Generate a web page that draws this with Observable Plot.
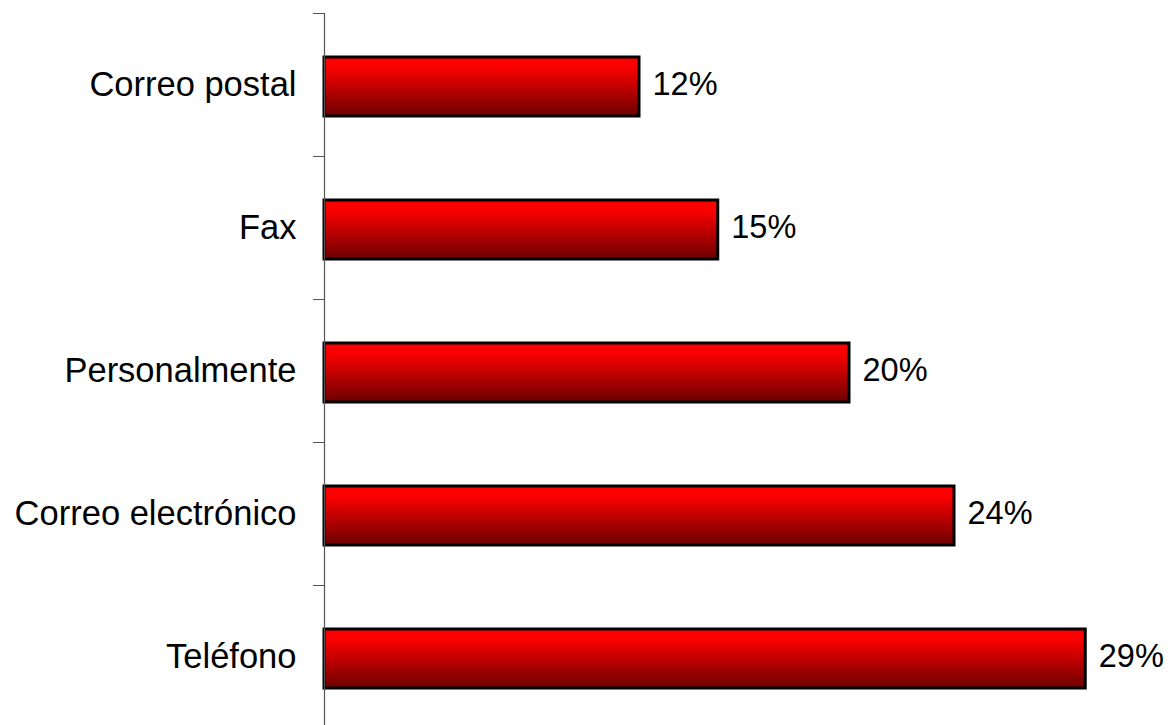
<!DOCTYPE html>
<html><head><meta charset="utf-8">
<script src="https://cdn.jsdelivr.net/npm/d3@7"></script>
<script src="https://cdn.jsdelivr.net/npm/@observablehq/plot@0.6"></script>
<style>body{margin:0;background:#fff;overflow:hidden}</style>
</head><body><div id="chart"></div>
<script>
const categories = ["Correo postal", "Fax", "Personalmente", "Correo electrónico", "Teléfono"];
const values = [12, 15, 20, 24, 29];
const valueLabels = ["12%", "15%", "20%", "24%", "29%"];

const data = categories.map((c, i) => ({category: c, value: values[i], label: valueLabels[i]}));

function gradientDefs() {
  const ns = "http://www.w3.org/2000/svg";
  const defs = document.createElementNS(ns, "defs");
  const g = document.createElementNS(ns, "linearGradient");
  g.setAttribute("id", "barGrad");
  g.setAttribute("x1", "0"); g.setAttribute("y1", "0");
  g.setAttribute("x2", "0"); g.setAttribute("y2", "1");
  [["0%", "#ff0000"], ["18%", "#fa0000"], ["100%", "#6c0000"]].forEach(([o, c]) => {
    const s = document.createElementNS(ns, "stop");
    s.setAttribute("offset", o);
    s.setAttribute("stop-color", c);
    g.appendChild(s);
  });
  defs.appendChild(g);
  return defs;
}

const chart = Plot.plot({
  width: 1171,
  height: 725,
  marginLeft: 324,
  marginRight: 7,
  marginTop: 13,
  marginBottom: 0,
  style: {fontFamily: "'Liberation Sans', Arial, sans-serif", background: "#fff", overflow: "visible", color: "#000"},
  x: {domain: [0, 32], axis: null},
  y: {domain: categories, range: [13, 728], paddingInner: 0.59, paddingOuter: 0.295, label: null},
  marks: [
    gradientDefs,
    Plot.barX(data, {x: "value", y: "category", fill: "url(#barGrad)", stroke: "#000", strokeWidth: 3, dy: 2}),
    Plot.text(data, {x: "value", y: "category", text: "label", textAnchor: "start", dx: 13, fontSize: 32.5, fill: "#000"}),
    Plot.axisY({tickSize: 0, tickPadding: 28, fontSize: 34.5, label: null}),
    Plot.axisY({tickSize: 11, tickFormat: () => "", dy: -71.5, label: null, stroke: "#555"}),
    Plot.ruleX([0], {stroke: "#555", strokeWidth: 1.2})
  ]
});
document.getElementById("chart").appendChild(chart);
</script>
</body></html>
